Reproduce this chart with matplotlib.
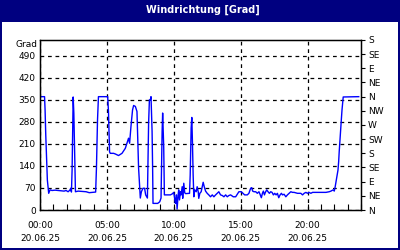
import matplotlib
matplotlib.use('Agg')
import matplotlib.pyplot as plt
from matplotlib.patches import Rectangle
from matplotlib.ticker import MultipleLocator

# wind direction (deg) over the day, hours since 00:00
hours = [0.08, 0.34, 0.38, 0.43, 0.50, 0.55, 0.65, 0.75, 0.90, 1.13, 1.35, 1.58, 1.80, 1.95,
         2.10, 2.23, 2.30, 2.35, 2.40, 2.48, 2.53, 2.57, 2.65, 2.85, 3.15, 3.45, 3.68, 3.90,
         4.05, 4.16, 4.22, 4.30, 4.37, 5.06, 5.12, 5.20, 5.25, 5.50, 5.63, 5.87, 6.13, 6.38,
         6.50, 6.62, 6.70, 6.80, 6.92, 7.00, 7.13, 7.25, 7.30, 7.37, 7.50, 7.58, 7.70, 7.82,
         7.90, 8.03, 8.12, 8.18, 8.25, 8.30, 8.38, 8.42, 8.45, 8.80, 8.95, 9.05, 9.13, 9.17,
         9.25, 9.30, 9.75, 9.88, 10.00, 10.07, 10.13, 10.20, 10.25, 10.33, 10.37, 10.43, 10.50,
         10.55, 10.63, 10.67, 10.75, 10.82, 10.88, 11.18, 11.23, 11.30, 11.35, 11.40, 11.45,
         11.50, 11.57, 11.68, 11.75, 11.83, 11.87, 11.95, 12.05, 12.13, 12.20, 12.28, 12.38,
         12.50, 12.62, 12.75, 12.88, 13.00, 13.13, 13.25, 13.37, 13.50, 13.63, 13.75, 13.88,
         14.00, 14.12, 14.25, 14.45, 14.63, 14.75, 14.87, 15.05, 15.17, 15.30, 15.50, 15.62,
         15.75, 15.83, 15.90, 16.00, 16.13, 16.25, 16.37, 16.45, 16.55, 16.63, 16.70, 16.78,
         16.85, 16.95, 17.05, 17.15, 17.25, 17.35, 17.45, 17.55, 17.65, 17.75, 17.85, 17.95,
         18.05, 18.13, 18.25, 18.38, 18.50, 18.62, 18.75, 18.88, 19.00, 19.25, 19.50, 19.63,
         19.75, 19.88, 20.00, 20.12, 20.25, 20.38, 20.63, 21.00, 21.38, 21.62, 21.75, 21.92,
         22.00, 22.07, 22.18, 22.28, 22.33, 22.37, 22.45, 22.52, 22.58, 22.67, 23.83]
direction = [360, 360, 318, 239, 154, 95, 53, 64, 62, 63, 62, 61, 60, 62,
             58, 63, 69, 57, 127, 359, 308, 223, 58, 60, 59, 58, 55, 56,
             57, 57, 133, 286, 360, 360, 313, 185, 180, 180, 178, 173, 180, 196,
             212, 228, 212, 265, 318, 332, 329, 313, 239, 134, 38, 58, 69, 69,
             48, 38, 276, 350, 350, 360, 250, 134, 21, 21, 26, 38, 249, 308,
             200, 48, 48, 51, 56, 35, 21, 48, 3, 48, 64, 32, 58,
             48, 74, 37, 85, 55, 52, 53, 111, 260, 294, 212, 111,
             42, 64, 58, 74, 58, 37, 53, 58, 74, 88, 74, 60,
             53, 48, 42, 48, 42, 48, 53, 58, 48, 46, 42, 48,
             42, 46, 48, 42, 42, 50, 58, 58, 53, 48, 48, 53,
             69, 71, 60, 58, 58, 53, 58, 50, 39, 53, 60, 48,
             56, 64, 58, 53, 58, 56, 48, 53, 48, 53, 39, 48,
             53, 48, 50, 42, 48, 53, 58, 56, 56, 53, 53, 48,
             53, 56, 53, 56, 53, 56, 56, 56, 56, 58, 60, 64,
             60, 74, 101, 127, 154, 185, 239, 281, 318, 359, 360]

grad_ticks = [0, 70, 140, 210, 280, 350, 420, 490]
compass_ticks = [0, 45, 90, 135, 180, 225, 270, 315, 360, 405, 450, 495, 540]
compass_labels = ['N', 'NE', 'E', 'SE', 'S', 'SW', 'W', 'NW', 'N', 'NE', 'E', 'SE', 'S']
hour_ticks = [0, 5, 10, 15, 20]
hour_labels = ['00:00\n20.06.25', '05:00\n20.06.25', '10:00\n20.06.25',
               '15:00\n20.06.25', '20:00\n20.06.25']

navy = '#000080'
fs = 6.5

fig = plt.figure(figsize=(4, 2.5), dpi=100)
fig.patch.set_facecolor(navy)
fig.add_artist(Rectangle((2 / 400, 2 / 250), 396 / 400, 226 / 250, transform=fig.transFigure,
                         facecolor='white', edgecolor='none', zorder=-10))
fig.text(0.507, 1 - 9.5 / 250, 'Windrichtung [Grad]', color='white', weight='bold',
         ha='center', va='center', fontsize=7)
fig.text(37 / 400, 1 - 45 / 250, 'Grad', ha='right', va='center', fontsize=fs)

ax = fig.add_axes([40 / 400, 40 / 250, 321 / 400, 170 / 250])
ax.plot(hours, direction, color='#0000ff', lw=1)
ax.set_xlim(0, 24)
ax.set_ylim(0, 540)
ax.set_yticks(grad_ticks)
ax.set_xticks(hour_ticks, hour_labels)
ax.xaxis.set_minor_locator(MultipleLocator(1))
ax.grid(True, color='black', linestyle=(0, (3, 3)), linewidth=0.9)
for s in ax.spines.values():
    s.set_color('black')
    s.set_linewidth(1)
ax.tick_params(axis='y', length=0, pad=3, labelsize=fs)
ax.tick_params(axis='x', which='both', direction='in', length=4, width=0.8, pad=8,
               labelsize=fs)
for lbl in ax.get_xticklabels():
    lbl.set_linespacing(1.6)

ax2 = ax.twinx()
ax2.set_ylim(0, 540)
ax2.set_yticks(compass_ticks, compass_labels)
ax2.tick_params(direction='out', length=3, width=0.8, pad=2, labelsize=fs)

fig.savefig('out.png', dpi=100, facecolor=fig.get_facecolor())
